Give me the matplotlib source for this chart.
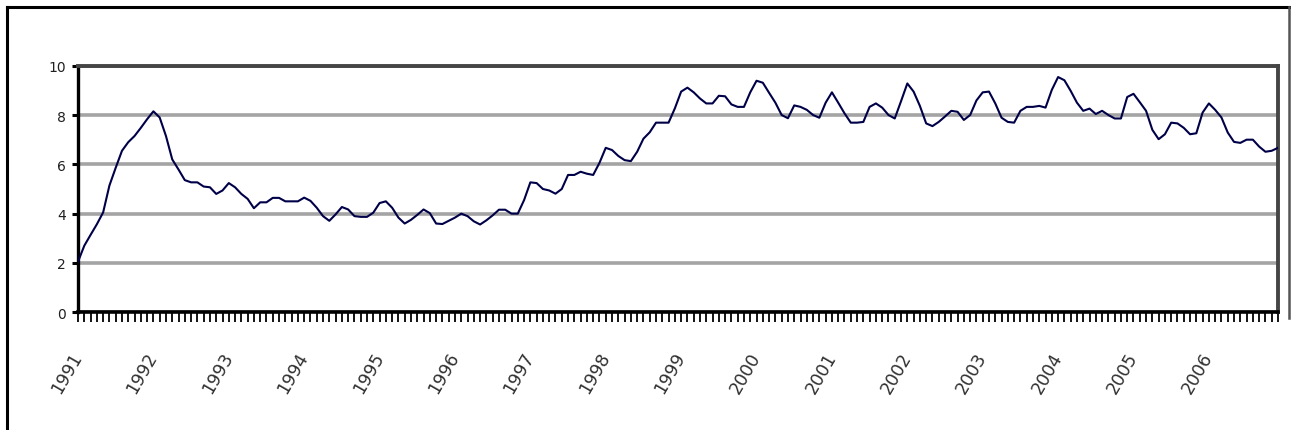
import matplotlib
matplotlib.use('Agg')
import matplotlib.pyplot as plt
from matplotlib.lines import Line2D
import numpy as np

# monthly values, one row per year
years = ['1991', '1992', '1993', '1994', '1995', '1996', '1997', '1998',
         '1999', '2000', '2001', '2002', '2003', '2004', '2005', '2006']
v1991 = [2.05, 2.7, 3.14, 3.57, 4.05, 5.14, 5.86, 6.55, 6.9, 7.15, 7.48, 7.83]
v1992 = [8.15, 7.9, 7.15, 6.2, 5.79, 5.36, 5.27, 5.27, 5.1, 5.07, 4.8, 4.94]
v1993 = [5.24, 5.07, 4.8, 4.6, 4.22, 4.46, 4.46, 4.64, 4.64, 4.5, 4.5, 4.5]
v1994 = [4.65, 4.52, 4.24, 3.9, 3.71, 3.97, 4.27, 4.17, 3.9, 3.87, 3.87, 4.04]
v1995 = [4.43, 4.5, 4.24, 3.84, 3.6, 3.75, 3.95, 4.17, 4.02, 3.6, 3.58, 3.71]
v1996 = [3.84, 4.0, 3.9, 3.69, 3.56, 3.73, 3.93, 4.16, 4.16, 4.0, 4.0, 4.55]
v1997 = [5.27, 5.24, 5.0, 4.94, 4.81, 5.0, 5.57, 5.57, 5.7, 5.62, 5.57, 6.06]
v1998 = [6.67, 6.58, 6.34, 6.17, 6.13, 6.51, 7.04, 7.3, 7.69, 7.69, 7.69, 8.27]
v1999 = [8.95, 9.11, 8.92, 8.67, 8.47, 8.47, 8.78, 8.76, 8.43, 8.33, 8.33, 8.92]
v2000 = [9.39, 9.31, 8.9, 8.5, 8.0, 7.87, 8.39, 8.33, 8.21, 8.0, 7.89, 8.5]
v2001 = [8.92, 8.5, 8.07, 7.69, 7.69, 7.72, 8.33, 8.47, 8.3, 8.0, 7.86, 8.56]
v2002 = [9.28, 8.95, 8.37, 7.66, 7.55, 7.72, 7.94, 8.17, 8.13, 7.8, 8.0, 8.59]
v2003 = [8.92, 8.95, 8.47, 7.89, 7.72, 7.69, 8.17, 8.33, 8.33, 8.37, 8.3, 9.02]
v2004 = [9.54, 9.41, 8.98, 8.5, 8.17, 8.26, 8.04, 8.17, 8.0, 7.86, 7.86, 8.73]
v2005 = [8.86, 8.52, 8.17, 7.4, 7.02, 7.22, 7.69, 7.66, 7.48, 7.22, 7.26, 8.1]
v2006 = [8.47, 8.21, 7.9, 7.29, 6.91, 6.87, 7.0, 7.0, 6.72, 6.51, 6.55, 6.67]

values = (v1991 + v1992 + v1993 + v1994 + v1995 + v1996 + v1997 + v1998 +
          v1999 + v2000 + v2001 + v2002 + v2003 + v2004 + v2005 + v2006)
x = np.arange(len(values))

fig = plt.figure(figsize=(12.91, 4.31), dpi=100)
fig.patch.set_facecolor('white')
ax = fig.add_axes([78 / 1291, 1 - 313.3 / 431, 1200 / 1291, 246.6 / 431])

ax.plot(x, values, color='#000048', lw=1.5, zorder=3)

ax.set_xlim(0, len(values) - 1)
ax.set_ylim(0, 10)
ax.set_yticks([0, 2, 4, 6, 8, 10])
ax.set_yticklabels(['0', '2', '4', '6', '8', '10'], fontsize=10,
                   color='#202020')
ax.yaxis.grid(True, color='#a4a4a4', lw=2.6)
ax.set_axisbelow(True)

# every month gets a tick, only Januaries get a label
ax.set_xticks(x[::12])
ax.set_xticks(x, minor=True)
ax.set_xticklabels(years, fontsize=12.5, rotation=60, ha='right',
                   va='center', rotation_mode='anchor', color='#303030')
ax.tick_params(axis='x', which='both', direction='out', length=7.5,
               width=1.3, color='black', pad=22)
ax.tick_params(axis='y', direction='out', length=4.5, width=2.2,
               color='black', pad=4)

ax.spines['left'].set_linewidth(2.4)
ax.spines['bottom'].set_linewidth(2.6)
ax.spines['left'].set_color('black')
ax.spines['bottom'].set_color('black')
for side in ['top', 'right']:
    ax.spines[side].set_linewidth(2.8)
    ax.spines[side].set_color('#454545')

# chart area frame
W, H = 1291.0, 431.0
fig.add_artist(Line2D([7 / W, 7 / W], [0, 1 - 8 / H], color='black', lw=2.2))
fig.add_artist(Line2D([7 / W, 1289 / W], [1 - 8 / H, 1 - 8 / H],
                      color='black', lw=2.2))
fig.add_artist(Line2D([1289 / W, 1289 / W], [1 - 319 / H, 1 - 8 / H],
                      color='#555555', lw=1.8))

fig.savefig('out.png', dpi=100, facecolor='white')
